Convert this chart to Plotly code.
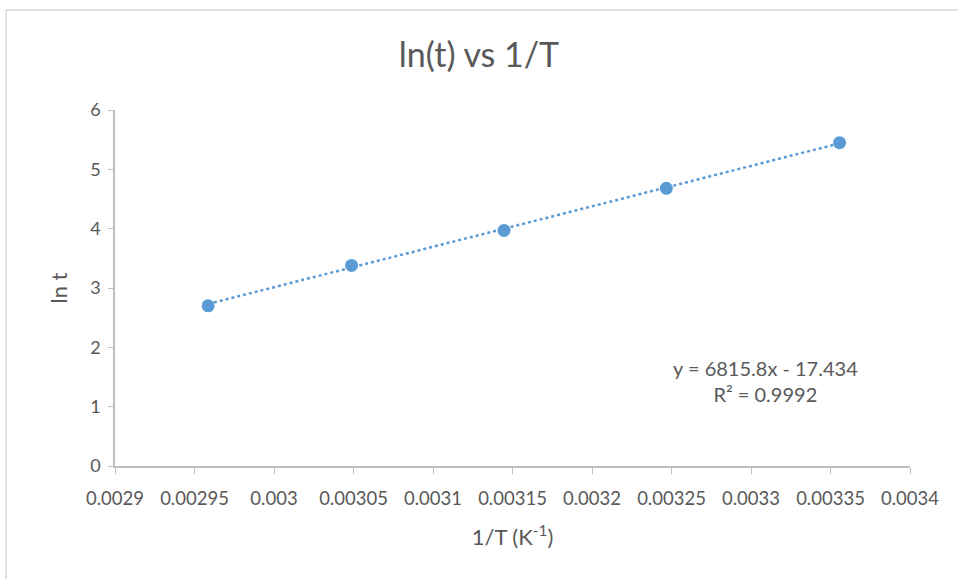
import plotly.graph_objects as go

inv_T = [1/338, 1/328, 1/318, 1/308, 1/298]
ln_t = [2.70, 3.38, 3.97, 4.68, 5.45]
slope = 6815.8
intercept = -17.434
r2 = 0.9992

x_ticks = [0.0029, 0.00295, 0.003, 0.00305, 0.0031, 0.00315, 0.0032, 0.00325, 0.0033, 0.00335, 0.0034]
x_tick_labels = ["0.0029", "0.00295", "0.003", "0.00305", "0.0031", "0.00315", "0.0032", "0.00325", "0.0033", "0.00335", "0.0034"]

blue = "#5B9BD5"
grey = "#595959"
font_family = "Lato, 'Open Sans', sans-serif"

trend_x = [min(inv_T), max(inv_T)]
trend_y = [slope * v + intercept for v in trend_x]

fig = go.Figure()
fig.add_trace(go.Scatter(x=trend_x, y=trend_y, mode="lines",
                         line=dict(color=blue, width=2.5, dash="dot"),
                         showlegend=False, hoverinfo="skip"))
fig.add_trace(go.Scatter(x=inv_T, y=ln_t, mode="markers",
                         marker=dict(color=blue, size=13),
                         showlegend=False))

fig.add_annotation(x=0.0033094, y=1.43, xref="x", yref="y",
                   text=f"y = {slope}x - {abs(intercept)}<br>R² = {r2}",
                   showarrow=False, align="center",
                   font=dict(size=20, color=grey, family=font_family))

fig.update_layout(
    width=958, height=579,
    margin=dict(l=115, r=48, t=110, b=113),
    paper_bgcolor="white", plot_bgcolor="white",
    title=dict(text="ln(t) vs 1/T", x=0.5, xanchor="center", y=0.905, yanchor="middle",
               font=dict(size=34, color=grey, family=font_family)),
    font=dict(family=font_family, color=grey, size=18),
    xaxis=dict(range=[0.0029, 0.0034], tickvals=x_ticks, ticktext=x_tick_labels,
               showgrid=False, zeroline=False, showline=True, linecolor="#BFBFBF", linewidth=1.5,
               ticks="outside", ticklen=6, tickcolor="#BFBFBF", ticklabelstandoff=9,
               tickfont=dict(size=18.5, color=grey, family=font_family),
               title=dict(text="1/T (K<sup>-1</sup>)", font=dict(size=22, color=grey, family=font_family), standoff=22)),
    yaxis=dict(range=[0, 6], dtick=1, showgrid=False, zeroline=False, showline=True,
               linecolor="#BFBFBF", linewidth=1.5, ticks="outside", ticklen=5, tickcolor="#BFBFBF",
               ticklabelstandoff=4,
               tickfont=dict(size=18, color=grey, family=font_family),
               title=dict(text="ln t", font=dict(size=22, color=grey, family=font_family), standoff=16)),
)
fig.add_shape(type="rect", xref="paper", yref="paper", x0=-0.137, x1=1.07, y0=-0.34, y1=1.281,
              line=dict(color="#D9D9D9", width=1.5))

fig.write_html("out.html", config={"displayModeBar": False},
               post_script="document.body.style.margin='0';")
